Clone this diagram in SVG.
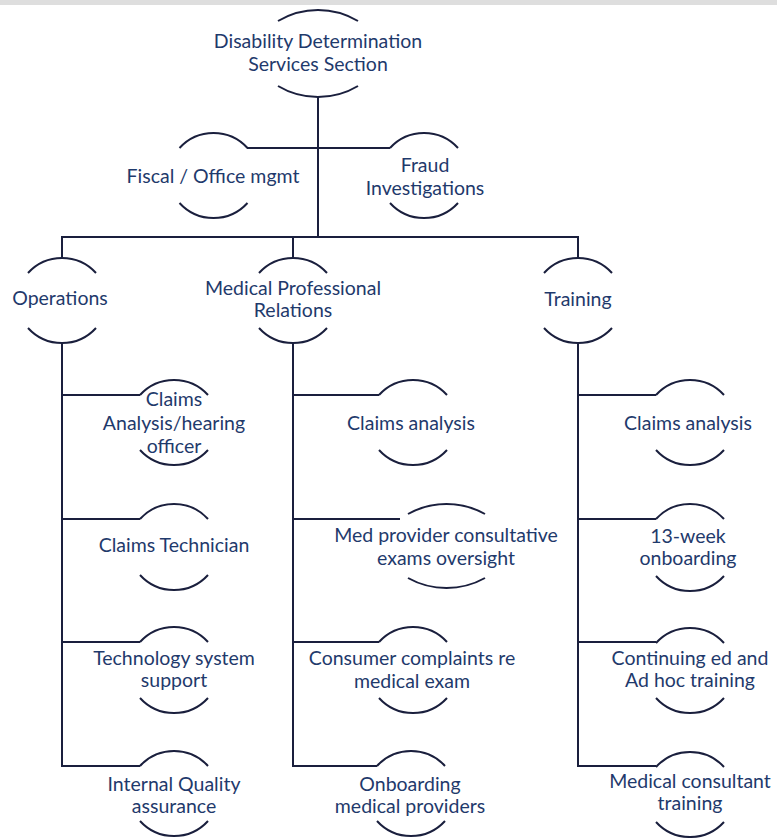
<svg xmlns="http://www.w3.org/2000/svg" xmlns:xlink="http://www.w3.org/1999/xlink" width="777" height="838" viewBox="0 0 777 838">
<style>
.t{font-family:Lato,"Open Sans","Liberation Sans",sans-serif;font-size:19.5px;fill:#1f3a6c;text-anchor:middle}
.ln{fill:none;stroke:#1a1f3d;stroke-width:2}
.arc{fill:none;stroke:#1a1f3d;stroke-width:2}
</style>
<defs>
<path id="ta" class="arc" d="M-34,0 a46,46 0 0 1 68,0"/>
<path id="ba" class="arc" d="M-34,0 a46,46 0 0 0 68,0"/>
</defs>
<rect x="0" y="0" width="777" height="5" fill="#dedede"/>
<g id="connectors">
<path class="ln" d="M318,97 V237"/>
<path class="ln" d="M247,148 H390"/>
<path class="ln" d="M61,237 H579"/>
<path class="ln" d="M62,237 V258 M293,237 V258 M578,237 V258"/>
<path class="ln" d="M62,343 V767 M293,343 V767 M578,343 V767"/>
<path class="ln" d="M62,395 H140 M62,519 H140 M62,642 H140 M62,766 H140"/>
<path class="ln" d="M293,395 H379 M293,519 H400 M293,642 H379 M293,766 H377"/>
<path class="ln" d="M578,395 H656 M578,519 H656 M578,642 H656 M578,766 H656"/>
</g>
<g id="root">
<path class="arc" d="M278,21 a78,78 0 0 1 80,0"/>
<path class="arc" d="M278,86 a78,78 0 0 0 80,0"/>
<text class="t" x="318" y="48">Disability Determination</text>
<text class="t" x="318" y="71">Services Section</text>
</g>
<g id="fiscal">
<use xlink:href="#ta" x="213.5" y="148"/><use xlink:href="#ba" x="213.5" y="203"/>
<text class="t" x="213" y="183">Fiscal / Office mgmt</text>
</g>
<g id="fraud">
<use xlink:href="#ta" x="424" y="148"/><use xlink:href="#ba" x="424" y="203"/>
<text class="t" x="425" y="172">Fraud</text>
<text class="t" x="425" y="195">Investigations</text>
</g>
<g id="operations">
<use xlink:href="#ta" x="62" y="273"/><use xlink:href="#ba" x="62" y="328"/>
<text class="t" x="60" y="305">Operations</text>
</g>
<g id="medical">
<use xlink:href="#ta" x="293" y="273"/><use xlink:href="#ba" x="293" y="328"/>
<text class="t" x="293" y="295">Medical Professional</text>
<text class="t" x="293" y="317">Relations</text>
</g>
<g id="training">
<use xlink:href="#ta" x="578" y="273"/><use xlink:href="#ba" x="578" y="328"/>
<text class="t" x="578" y="306">Training</text>
</g>
<g id="ops-claims">
<use xlink:href="#ta" x="174" y="395"/><use xlink:href="#ba" x="174" y="450"/>
<text class="t" x="174" y="406">Claims</text>
<text class="t" x="174" y="430">Analysis/hearing</text>
<text class="t" x="174" y="453">officer</text>
</g>
<g id="ops-tech">
<use xlink:href="#ta" x="174" y="519"/><use xlink:href="#ba" x="174" y="575"/>
<text class="t" x="174" y="552">Claims Technician</text>
</g>
<g id="ops-support">
<use xlink:href="#ta" x="174" y="642"/><use xlink:href="#ba" x="174" y="698"/>
<text class="t" x="174" y="665">Technology system</text>
<text class="t" x="174" y="687">support</text>
</g>
<g id="ops-qa">
<use xlink:href="#ta" x="174" y="766"/><use xlink:href="#ba" x="174" y="821"/>
<text class="t" x="174" y="791">Internal Quality</text>
<text class="t" x="174" y="813">assurance</text>
</g>
<g id="med-claims">
<use xlink:href="#ta" x="413" y="395"/><use xlink:href="#ba" x="413" y="450"/>
<text class="t" x="411" y="430">Claims analysis</text>
</g>
<g id="med-provider">
<path class="arc" d="M408,514 a79,79 0 0 1 77,0"/>
<path class="arc" d="M408,578 a79,79 0 0 0 77,0"/>
<text class="t" x="446" y="542">Med provider consultative</text>
<text class="t" x="446" y="565">exams oversight</text>
</g>
<g id="med-complaints">
<use xlink:href="#ta" x="413" y="642"/><use xlink:href="#ba" x="413" y="698"/>
<text class="t" x="412" y="665">Consumer complaints re</text>
<text class="t" x="412" y="688">medical exam</text>
</g>
<g id="med-onboarding">
<use xlink:href="#ta" x="411" y="766"/><use xlink:href="#ba" x="411" y="821"/>
<text class="t" x="410" y="791">Onboarding</text>
<text class="t" x="410" y="813">medical providers</text>
</g>
<g id="tr-claims">
<use xlink:href="#ta" x="690" y="395"/><use xlink:href="#ba" x="690" y="450"/>
<text class="t" x="688" y="430">Claims analysis</text>
</g>
<g id="tr-onboarding">
<use xlink:href="#ta" x="690" y="519"/><use xlink:href="#ba" x="690" y="576"/>
<text class="t" x="688" y="543">13-week</text>
<text class="t" x="688" y="565">onboarding</text>
</g>
<g id="tr-continuing">
<use xlink:href="#ta" x="690" y="643"/><use xlink:href="#ba" x="690" y="698"/>
<text class="t" x="690" y="665">Continuing ed and</text>
<text class="t" x="690" y="687">Ad hoc training</text>
</g>
<g id="tr-consultant">
<use xlink:href="#ta" x="690" y="767"/><use xlink:href="#ba" x="690" y="822"/>
<text class="t" x="690" y="788">Medical consultant</text>
<text class="t" x="690" y="810">training</text>
</g>
</svg>
